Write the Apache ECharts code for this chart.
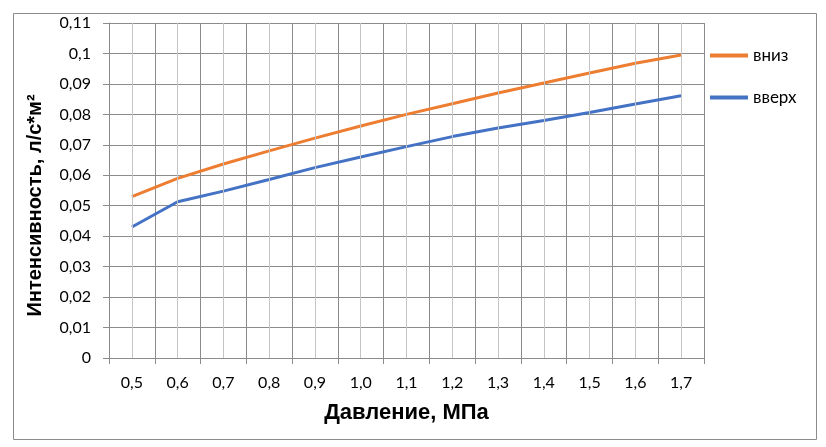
<!DOCTYPE html>
<html>
<head>
<meta charset="utf-8">
<script src="https://cdn.jsdelivr.net/npm/echarts@6/dist/echarts.min.js"></script>
<style>html,body{margin:0;padding:0;background:#fff}#c{width:826px;height:447px}</style>
</head>
<body>
<div id="c"></div>
<script>
var categories = ['0,5','0,6','0,7','0,8','0,9','1,0','1,1','1,2','1,3','1,4','1,5','1,6','1,7'];
var down = [0.053, 0.059, 0.0637, 0.068, 0.0722, 0.0762, 0.080, 0.0835, 0.087, 0.0903, 0.0936, 0.0968, 0.0995];
var up = [0.043, 0.0513, 0.0548, 0.0586, 0.0625, 0.066, 0.0694, 0.0727, 0.0755, 0.078, 0.0806, 0.0834, 0.0861];
var seriesNames = ['вниз', 'вверх'];
var yTitle = 'Интенсивность, л/с*м²';
var xTitle = 'Давление, МПа';

var chart = echarts.init(document.getElementById('c'));
var dark = '#8c8c8c', light = '#c4c4c4';
chart.setOption({
  animation: false,
  graphic: [{type: 'rect', left: 11, top: 11, shape: {width: 803, height: 426}, style: {fill: 'none', stroke: '#8c8c8c', lineWidth: 1}, silent: true}],
  grid: {left: 109, top: 23, right: 122, bottom: 89},
  legend: {
    orient: 'vertical', left: 708, top: 47, padding: 0, itemWidth: 38, itemHeight: 14, itemGap: 25,
    data: seriesNames,
    itemStyle: {opacity: 0},
    lineStyle: {width: 4},
    textStyle: {fontFamily: 'Lato', fontSize: 17, color: '#000'}
  },
  xAxis: {
    type: 'category', data: categories, boundaryGap: true,
    name: xTitle, nameLocation: 'middle', nameGap: 44,
    nameTextStyle: {fontFamily: 'Liberation Sans', fontWeight: 'bold', fontSize: 22, color: '#000'},
    axisLine: {lineStyle: {color: dark}},
    axisTick: {show: true, length: 6, lineStyle: {color: dark}},
    axisLabel: {margin: 17, fontFamily: 'Lato', fontSize: 16, color: '#000'},
    splitLine: {show: true, lineStyle: {color: dark, width: 1}}
  },
  yAxis: {
    type: 'value', min: 0, max: 0.11, interval: 0.01,
    name: yTitle, nameLocation: 'middle', nameGap: 64, nameRotate: 90,
    nameTextStyle: {fontFamily: 'Liberation Sans', fontWeight: 'bold', fontSize: 20, color: '#000', padding: [0, 30, 0, 0]},
    axisLine: {show: true, lineStyle: {color: dark}},
    axisTick: {show: true, length: 6, lineStyle: {color: dark}},
    axisLabel: {margin: 18, fontFamily: 'Lato', fontSize: 16, color: '#000',
      formatter: function (v) { return String(Math.round(v * 100) / 100).replace('.', ','); }},
    splitLine: {show: true, lineStyle: {color: dark, width: 1}}
  },
  series: [
    {name: 'minor', type: 'line', data: [], z: 1, silent: true,
     markLine: {silent: true, symbol: 'none', label: {show: false}, animation: false,
       lineStyle: {color: light, width: 1, type: 'solid'},
       data: categories.map(function (c) { return {xAxis: c}; })}},
    {name: seriesNames[0], type: 'line', data: down, symbol: 'none', z: 3,
     lineStyle: {color: '#ED7D31', width: 3}, itemStyle: {color: '#ED7D31'}},
    {name: seriesNames[1], type: 'line', data: up, symbol: 'none', z: 3,
     lineStyle: {color: '#4472C4', width: 3}, itemStyle: {color: '#4472C4'}}
  ]
});
</script>
</body>
</html>
